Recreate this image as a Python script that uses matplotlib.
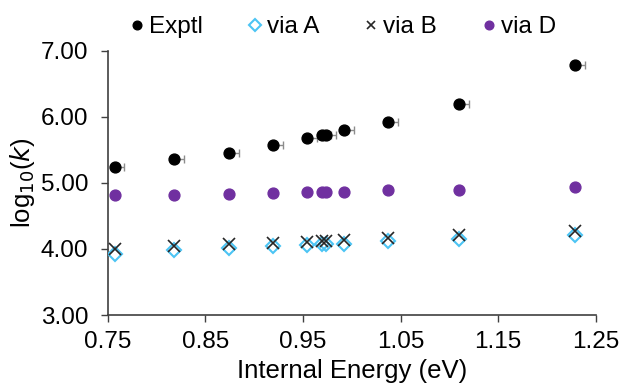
import matplotlib
matplotlib.use('Agg')
import matplotlib.pyplot as plt

plt.rcParams['font.family'] = ['Liberation Sans', 'DejaVu Sans']

# internal energies (eV)
energy = [0.757, 0.818, 0.874, 0.919, 0.954, 0.969, 0.974, 0.992, 1.037, 1.110, 1.229]
# log10(k) values
exptl = [5.24, 5.37, 5.46, 5.58, 5.68, 5.72, 5.73, 5.80, 5.93, 6.20, 6.78]
exptl_err = [0.010] * 11
via_a = [3.93, 3.98, 4.02, 4.05, 4.06, 4.07, 4.07, 4.08, 4.12, 4.15, 4.21]
via_b = [4.00, 4.04, 4.07, 4.09, 4.11, 4.12, 4.12, 4.13, 4.17, 4.21, 4.27]
via_d = [4.81, 4.82, 4.84, 4.85, 4.86, 4.86, 4.86, 4.87, 4.89, 4.90, 4.94]

xticks = [0.75, 0.85, 0.95, 1.05, 1.15, 1.25]
yticks = [3.0, 4.0, 5.0, 6.0, 7.0]

fig = plt.figure(figsize=(6.2, 3.88), dpi=100)
ax = fig.add_axes([0.174, 0.188, 0.787, 0.681])

# error bars only to the right
ax.errorbar(energy, exptl, xerr=[[0] * 11, exptl_err], fmt='none',
            ecolor='#8c8c8c', elinewidth=1, capsize=3, capthick=1, zorder=2)
ax.plot(energy, exptl, 'o', color='black', ms=7.8, ls='none', label='Exptl', zorder=3)
ax.plot(energy, via_a, 'D', mfc='none', mec='#4cc4f4', mew=1.5, ms=7.5, ls='none',
        label='via A', zorder=3)
ax.plot(energy, via_b, 'x', color='#262626', mew=1.2, ms=8, ls='none', label='via B', zorder=4)
ax.plot(energy, via_d, 'o', color='#7030a0', ms=7.8, ls='none', label='via D', zorder=3)

ax.set_xlim(0.75, 1.25)
ax.set_ylim(3.0, 7.0)
ax.set_xticks(xticks)
ax.set_xticklabels(['%.2f' % v for v in xticks])
ax.set_yticks(yticks)
ax.set_yticklabels(['%.2f' % v for v in yticks])
ax.tick_params(labelsize=17.5, length=5, width=1, color='#404040')
ax.tick_params(axis='x', pad=6.5)
ax.tick_params(axis='y', pad=9)

for s in ['top', 'right']:
    ax.spines[s].set_visible(False)
for s in ['left', 'bottom']:
    ax.spines[s].set_color('#404040')
    ax.spines[s].set_linewidth(1.2)

ax.set_xlabel('Internal Energy (eV)', fontsize=18.5, labelpad=4)
ax.set_ylabel('log$_{10}$($k$)', fontsize=18.5, labelpad=3)

fig.legend(loc='upper center', bbox_to_anchor=(0.549, 1.015), ncol=4, frameon=False,
           fontsize=17.5, handletextpad=0.0, columnspacing=1.63, handlelength=1.0,
           markerscale=0.8)

fig.savefig('out.png', dpi=100)
